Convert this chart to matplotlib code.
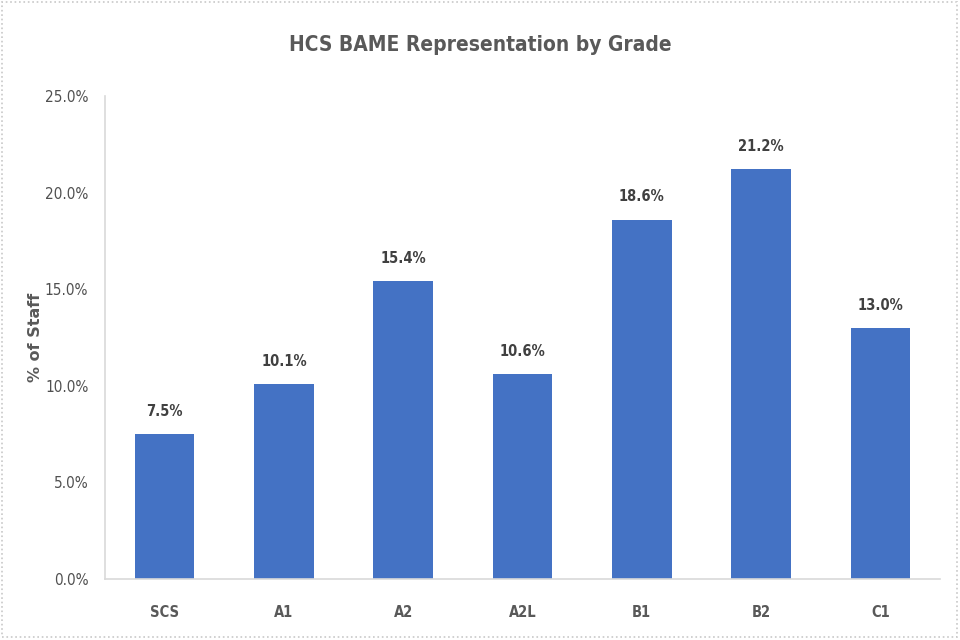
import matplotlib
matplotlib.use('Agg')
from matplotlib import pyplot as plt
from matplotlib.patches import Rectangle
from matplotlib.ticker import FuncFormatter

# data
grades = ['SCS', 'A1', 'A2', 'A2L', 'B1', 'B2', 'C1']
bame_pct = [7.5, 10.1, 15.4, 10.6, 18.6, 21.2, 13.0]

text_col = '#595959'
bar_col = '#4472C4'
line_col = '#D9D9D9'

plt.rcParams['font.family'] = ['DejaVu Sans']
plt.rcParams['font.stretch'] = 'condensed'

fig = plt.figure(figsize=(9.6, 6.4), dpi=100)
ax = fig.add_axes([105/960, 1 - 579/640, 835/960, 483/640])

x = range(len(grades))
bars = ax.bar(x, bame_pct, width=0.5, color=bar_col, zorder=2)

for b, v in zip(bars, bame_pct):
	ax.annotate('%.1f%%' % v, (b.get_x() + b.get_width()/2, v),
		xytext=(0, 11), textcoords='offset points', ha='center', va='bottom',
		fontsize=10.5, fontweight='bold', color='#404040')

ax.set_xlim(-0.5, len(grades) - 0.5)
ax.set_ylim(0, 25)
ax.set_yticks([0, 5, 10, 15, 20, 25])
ax.yaxis.set_major_formatter(FuncFormatter(lambda v, p: '%.1f%%' % v))
ax.set_xticks(list(x))
ax.set_xticklabels(grades, fontweight='bold')
ax.tick_params(axis='y', length=0, colors='#505050', labelsize=11, pad=12)
ax.tick_params(axis='x', length=0, colors=text_col, labelsize=10.5, pad=19)

for s in ['top', 'right']:
	ax.spines[s].set_visible(False)
for s in ['left', 'bottom']:
	ax.spines[s].set_color(line_col)
	ax.spines[s].set_linewidth(1.2)

ax.set_ylabel('% of Staff', fontsize=11.5, fontweight='bold', color=text_col,
	fontstretch='normal')
ax.yaxis.set_label_coords(-62/835, 0.5)

fig.text(0.5, 1 - 45/640, 'HCS BAME Representation by Grade', ha='center', va='center',
	fontsize=15, fontweight='semibold', color=text_col)

# outer border
fig.patches.append(Rectangle((0.002, 0.004), 0.995, 0.993, transform=fig.transFigure,
	fill=False, edgecolor='#C8C8C8', linewidth=1.2, linestyle=':'))

fig.savefig('out.png', dpi=100)
